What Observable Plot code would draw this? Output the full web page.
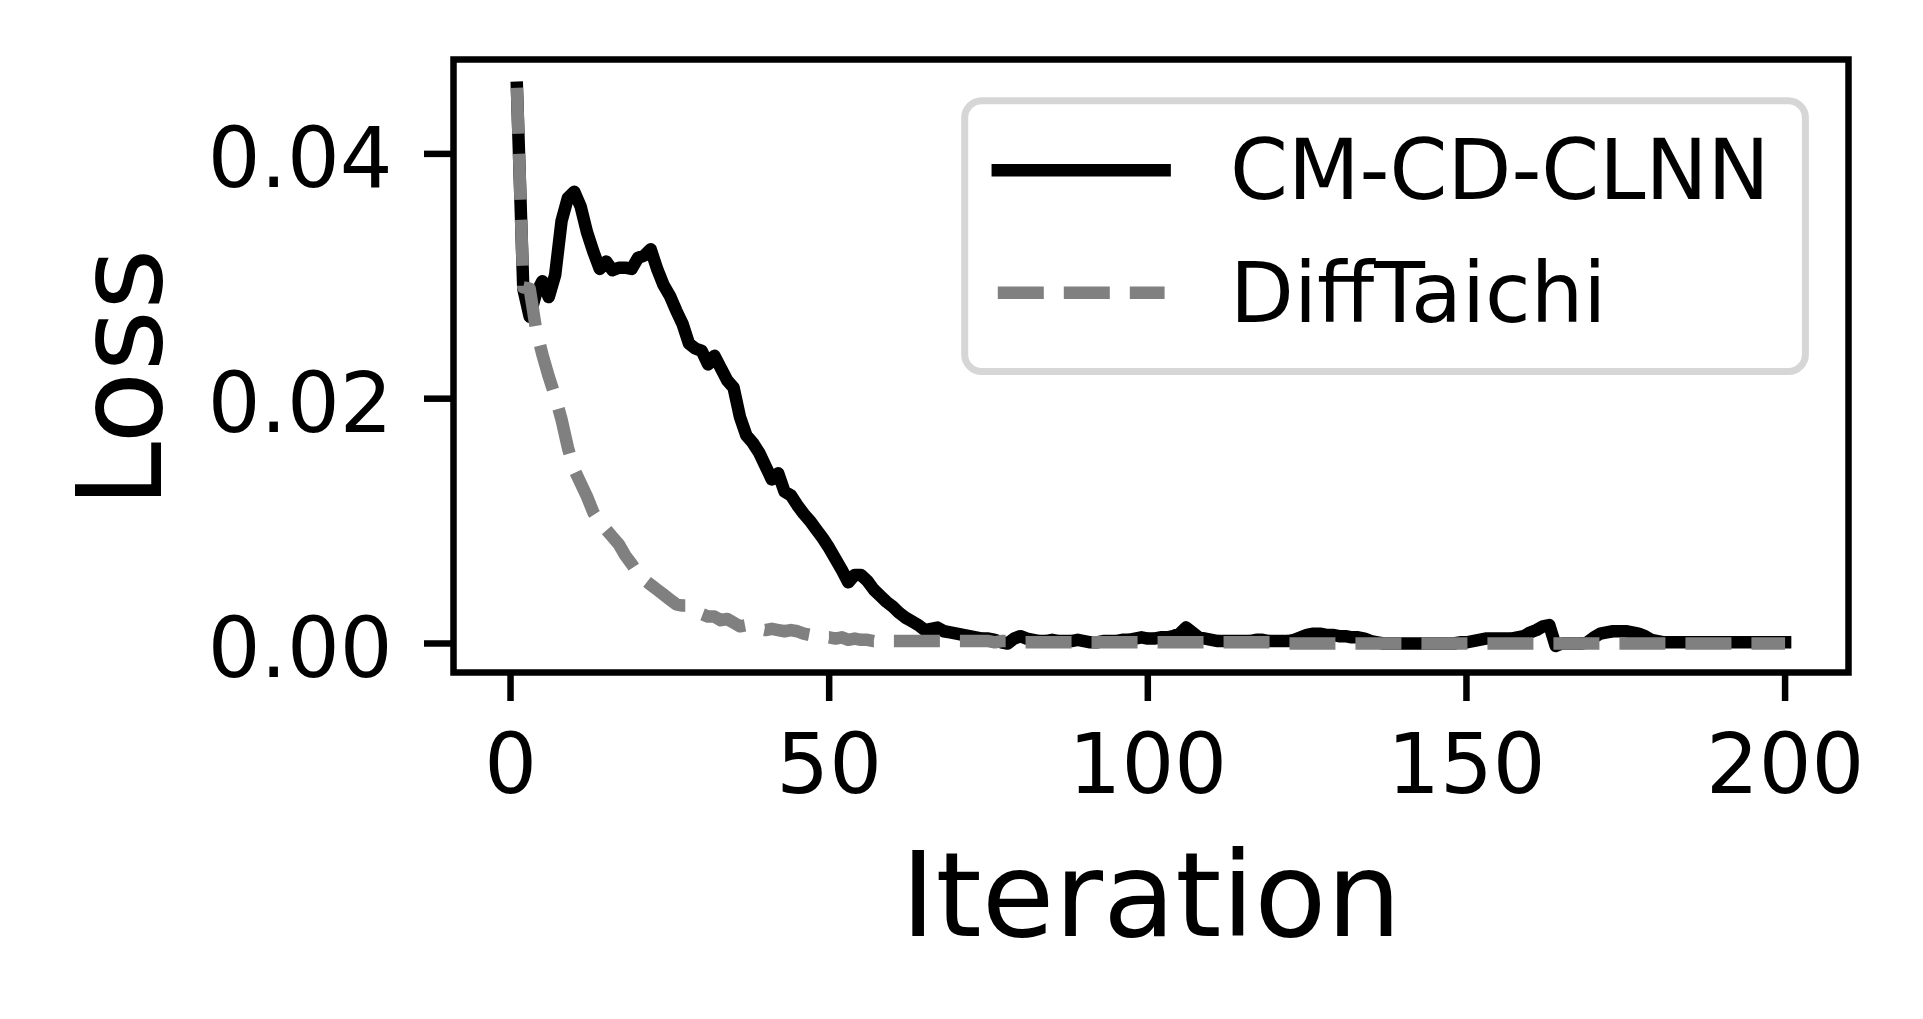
<!DOCTYPE html>
<html>
<head>
<meta charset="utf-8">
<script src="https://cdn.jsdelivr.net/npm/d3@7"></script>
<script src="https://cdn.jsdelivr.net/npm/@observablehq/plot@0.6"></script>
<style>
  html, body { margin: 0; padding: 0; background: #fff; }
  #chart svg { display: block; max-width: none; }
</style>
</head>
<body>
<div id="chart"></div>
<script>
// ---- data ----
const iterations = d3.range(1, 201);

const cmcdclnn = [
  0.0454, 0.0290, 0.0267, 0.0286, 0.0296, 0.0283, 0.0301, 0.0345, 0.0364, 0.0369,
  0.0357, 0.0336, 0.0320, 0.0306, 0.0312, 0.0305, 0.0307, 0.0307, 0.0306, 0.0315,
  0.0317, 0.0322, 0.0306, 0.0293, 0.0284, 0.0272, 0.0261, 0.0245, 0.0241, 0.0239,
  0.0228, 0.0235, 0.0225, 0.0215, 0.0209, 0.0185, 0.0170, 0.0164, 0.0156, 0.0145,
  0.0134, 0.0139, 0.0124, 0.0121, 0.0113, 0.0106, 0.0100, 0.0093, 0.0086, 0.0078,
  0.0069, 0.0060, 0.0050, 0.0056, 0.0056, 0.0051, 0.0044, 0.0039, 0.0034, 0.0030,
  0.0025, 0.0021, 0.0018, 0.0015, 0.0011, 0.0012, 0.0013, 0.0010, 0.0009, 0.0008,
  0.0007, 0.0006, 0.0005, 0.0004, 0.0004, 0.0003, 0.0001, 0.0000, 0.0004, 0.0006,
  0.0004, 0.0003, 0.0002, 0.0002, 0.0003, 0.0002, 0.0002, 0.0002, 0.0003, 0.0002,
  0.0001, 0.0001, 0.0002, 0.0002, 0.0002, 0.0003, 0.0003, 0.0004, 0.0005, 0.0004,
  0.0004, 0.0005, 0.0005, 0.0006, 0.0008, 0.0013, 0.0009, 0.0005, 0.0004, 0.0003,
  0.0002, 0.0002, 0.0002, 0.0002, 0.0002, 0.0002, 0.0003, 0.0003, 0.0002, 0.0002,
  0.0002, 0.0002, 0.0003, 0.0005, 0.0007, 0.0008, 0.0008, 0.0007, 0.0007, 0.0006,
  0.0006, 0.0005, 0.0005, 0.0004, 0.0002, 0.0001, 0.0000, 0.0000, 0.0000, 0.0000,
  0.0000, 0.0000, 0.0000, 0.0000, 0.0000, 0.0000, 0.0000, 0.0000, 0.0001, 0.0001,
  0.0002, 0.0003, 0.0004, 0.0004, 0.0004, 0.0004, 0.0004, 0.0005, 0.0006, 0.0009,
  0.0011, 0.0014, 0.0015, -0.0002, 0.0000, 0.0000, 0.0000, 0.0000, 0.0001, 0.0005,
  0.0008, 0.0009, 0.0010, 0.0010, 0.0010, 0.0009, 0.0008, 0.0006, 0.0003, 0.0002,
  0.0001, 0.0001, 0.0001, 0.0001, 0.0001, 0.0001, 0.0001, 0.0001, 0.0001, 0.0001,
  0.0001, 0.0001, 0.0001, 0.0001, 0.0001, 0.0001, 0.0001, 0.0001, 0.0001, 0.0001
];

const difftaichi = [
  0.0454, 0.0291, 0.0290, 0.0257, 0.0236, 0.0218, 0.0202, 0.0183, 0.0160, 0.0142,
  0.0131, 0.0120, 0.0107, 0.0099, 0.0093, 0.0087, 0.0081, 0.0072, 0.0065, 0.0057,
  0.0052, 0.0048, 0.0044, 0.0040, 0.0036, 0.0032, 0.0031, 0.0031, 0.0028, 0.0024,
  0.0022, 0.0022, 0.0019, 0.0020, 0.0017, 0.0014, 0.0015, 0.0013, 0.0012, 0.0011,
  0.0012, 0.0011, 0.0010, 0.0011, 0.0010, 0.0008, 0.0007, 0.0006, 0.0005, 0.0005,
  0.0004, 0.0005, 0.0003, 0.0004, 0.0003, 0.0003, 0.0002, 0.0002, 0.0002, 0.0002,
  0.0002, 0.0002, 0.0002, 0.0002, 0.0002, 0.0002, 0.0002, 0.0002, 0.0002, 0.0002,
  0.0002, 0.0002, 0.0002, 0.0002, 0.0002, 0.0001, 0.0002, 0.0002, 0.0002, 0.0001,
  0.0001, 0.0001, 0.0001, 0.0001, 0.0001, 0.0001, 0.0001, 0.0001, 0.0001, 0.0001,
  0.0001, 0.0001, 0.0001, 0.0001, 0.0001, 0.0001, 0.0001, 0.0001, 0.0001, 0.0001,
  0.0001, 0.0001, 0.0001, 0.0001, 0.0001, 0.0001, 0.0001, 0.0001, 0.0001, 0.0001,
  0.0001, 0.0001, 0.0001, 0.0001, 0.0001, 0.0001, 0.0001, 0.0001, 0.0001, 0.0001,
  0.0000, 0.0000, 0.0000, 0.0000, 0.0000, 0.0000, 0.0000, 0.0000, 0.0000, 0.0000,
  0.0000, 0.0000, 0.0000, 0.0000, 0.0000, 0.0000, 0.0000, 0.0000, 0.0000, 0.0000,
  0.0000, 0.0000, 0.0000, 0.0000, 0.0000, 0.0000, 0.0000, 0.0000, 0.0000, 0.0000,
  0.0000, 0.0000, 0.0000, 0.0000, 0.0000, 0.0000, 0.0000, 0.0000, 0.0000, 0.0000,
  0.0000, 0.0000, 0.0000, 0.0000, 0.0000, 0.0000, 0.0000, 0.0000, 0.0000, 0.0000,
  0.0000, 0.0000, 0.0000, 0.0000, 0.0000, 0.0000, 0.0000, 0.0000, 0.0000, 0.0000,
  0.0000, 0.0000, 0.0000, 0.0000, 0.0000, 0.0000, 0.0000, 0.0000, 0.0000, 0.0000,
  0.0000, 0.0000, 0.0000, 0.0000, 0.0000, 0.0000, 0.0000, 0.0000, 0.0000, 0.0000
];

const seriesNames = ["CM-CD-CLNN", "DiffTaichi"];
const xTicks = [0, 50, 100, 150, 200];
const yTicks = [0.00, 0.02, 0.04];
const xLabel = "Iteration";
const yLabel = "Loss";

// ---- table built from arrays ----
const rowsA = iterations.map((it, i) => ({it, v: cmcdclnn[i]}));
const rowsB = iterations.map((it, i) => ({it, v: difftaichi[i]}));

const W = 1923, H = 1019;
const FONT = "'DejaVu Sans', 'Liberation Sans', sans-serif";
const LW = 12.5;
const DASH = "46,20";
const TICK_FS = 83;

const chart = Plot.plot({
  width: W,
  height: H,
  marginLeft: 453,
  marginRight: 75,
  marginTop: 59,
  marginBottom: 347,
  style: {fontFamily: FONT, background: "#fff", color: "#000", overflow: "visible"},
  x: {domain: [-8.95, 209.95]},
  y: {domain: [-0.00237, 0.04771]},
  marks: [
    Plot.line(rowsA, {x: "it", y: "v", stroke: "#000", strokeWidth: LW,
      strokeLinecap: "square", strokeLinejoin: "round"}),
    Plot.line(rowsB, {x: "it", y: "v", stroke: "#808080", strokeWidth: LW,
      strokeDasharray: DASH, strokeLinecap: "butt", strokeLinejoin: "round"}),
    Plot.frame({stroke: "#000", strokeWidth: 6.5}),
    Plot.axisX({ticks: xTicks, tickFormat: d3.format("d"), tickSize: 29, tickPadding: 33,
      strokeWidth: 6.5, fontSize: TICK_FS, label: null}),
    // y ticks (marks only)
    Plot.axisY({ticks: yTicks, tickSize: 29, strokeWidth: 6.5, fill: "none", label: null}),
    // y tick labels (text only, nudged to matplotlib's centre baseline)
    Plot.axisY({ticks: yTicks, tickFormat: d3.format(".2f"), tickSize: 0, tickPadding: 61,
      fontSize: TICK_FS, dy: 7, label: null}),
    Plot.text([xLabel], {frameAnchor: "bottom", textAnchor: "middle", lineAnchor: "bottom",
      dy: 263, fontSize: 118}),
    Plot.text([yLabel], {frameAnchor: "left", textAnchor: "middle", lineAnchor: "bottom",
      rotate: -90, dx: -293, dy: 12, fontSize: 118})
  ]
});

// ---- legend (drawn inside the plot's svg, upper right) ----
const svg = d3.select(chart);
const lg = svg.append("g").attr("font-family", FONT).attr("text-anchor", "start");
lg.append("rect")
  .attr("x", 964.7).attr("y", 100.8).attr("width", 840.7).attr("height", 270.7)
  .attr("rx", 17).attr("ry", 17)
  .attr("fill", "#fff").attr("fill-opacity", 0.8)
  .attr("stroke", "#d6d6d6").attr("stroke-width", 7);
const entries = [
  {name: seriesNames[0], stroke: "#000", dash: null, cap: "square", y: 170.3},
  {name: seriesNames[1], stroke: "#808080", dash: DASH, cap: "butt", y: 292.8}
];
for (const e of entries) {
  const l = lg.append("line")
    .attr("x1", 997.8).attr("x2", 1164.6).attr("y1", e.y).attr("y2", e.y)
    .attr("stroke", e.stroke).attr("stroke-width", LW).attr("stroke-linecap", e.cap);
  if (e.dash) l.attr("stroke-dasharray", e.dash);
  lg.append("text")
    .attr("x", 1230).attr("y", e.y + 29)
    .attr("text-anchor", "start")
    .attr("font-size", TICK_FS).attr("fill", "#000")
    .text(e.name);
}

document.getElementById("chart").appendChild(chart);
</script>
</body>
</html>
